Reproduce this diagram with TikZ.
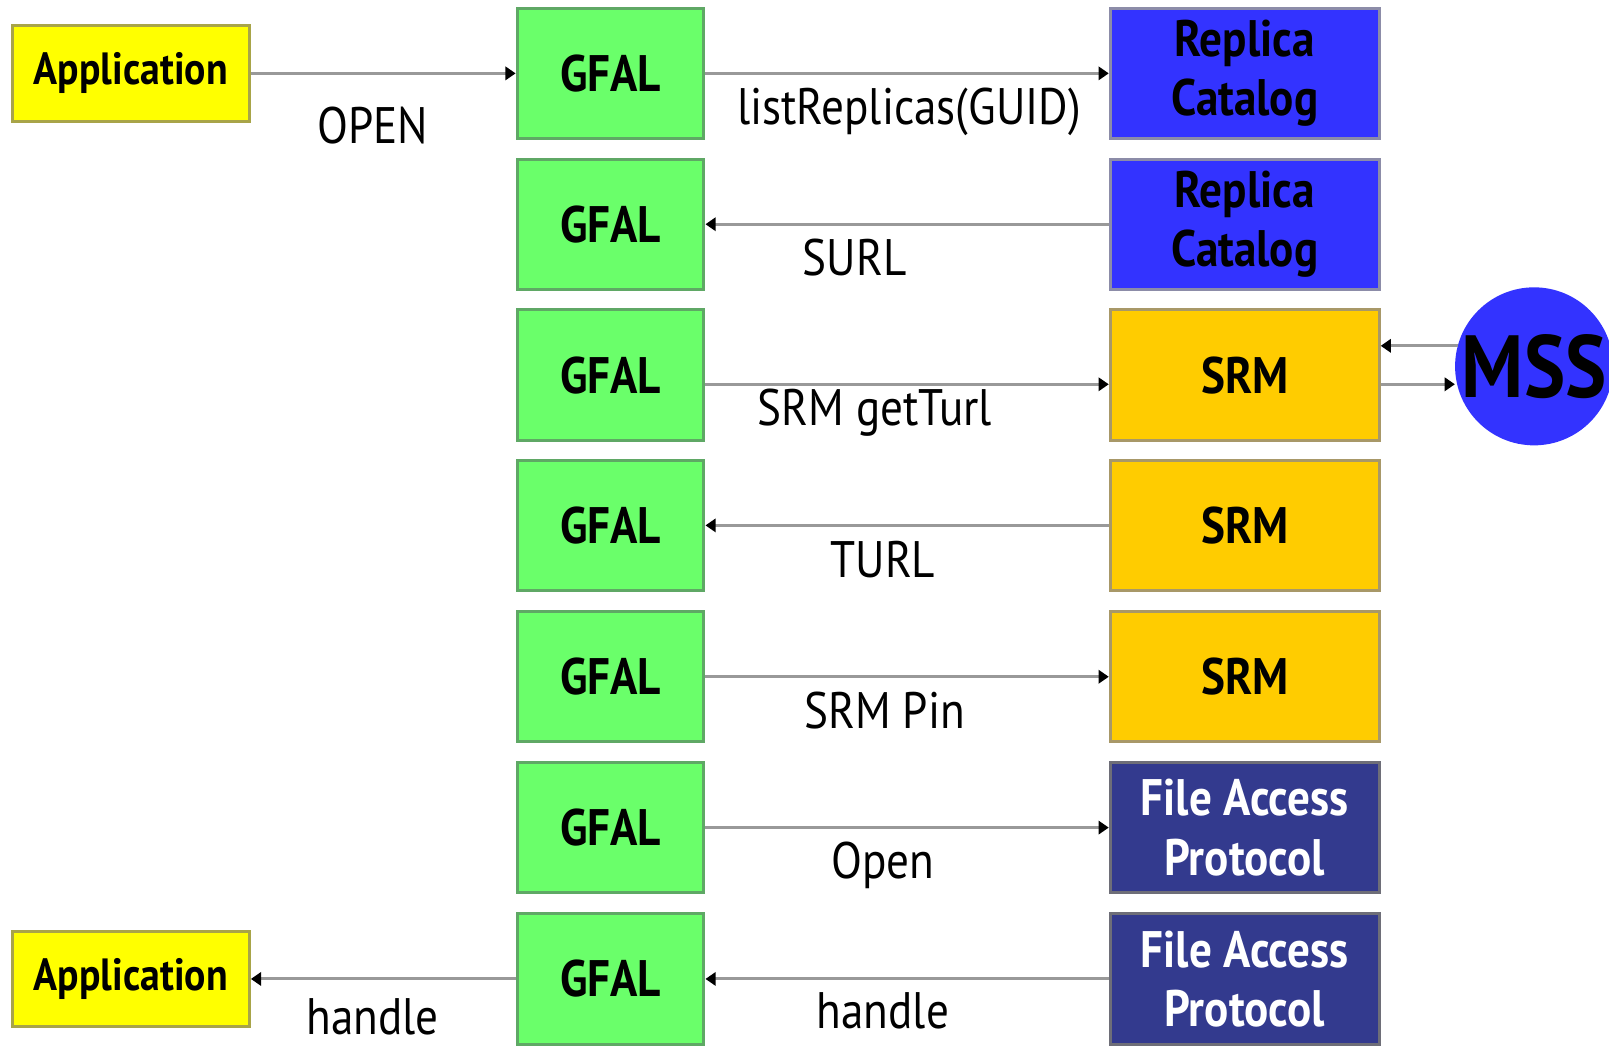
\documentclass[tikz,border=0pt]{standalone}
\usepackage{fontspec}
\setmainfont[FakeStretch=0.88]{PT Sans}
\usetikzlibrary{arrows.meta}

\definecolor{appfill}{HTML}{FFFF00}
\definecolor{appline}{HTML}{A8A448}
\definecolor{gfalfill}{HTML}{6AFF6A}
\definecolor{gfalline}{HTML}{5FA865}
\definecolor{rcfill}{HTML}{3333FF}
\definecolor{rcline}{HTML}{8C8CA8}
\definecolor{srmfill}{HTML}{FFCC00}
\definecolor{srmline}{HTML}{A89868}
\definecolor{fapfill}{HTML}{333A8E}
\definecolor{fapline}{HTML}{6E6E78}
\definecolor{wire}{HTML}{999999}

\newcommand\boxfont{\fontsize{50}{58}\selectfont\bfseries}
\newcommand\appfont{\fontsize{44}{50}\selectfont\bfseries}
\newcommand\lblfont{\fontsize{50}{58}\selectfont}
\newcommand\mssfont{\fontsize{86}{90}\selectfont\bfseries}

\begin{document}
\begin{tikzpicture}[x=1pt,y=-1pt,
  box/.style={draw, line width=3pt, inner sep=0pt, align=center, font=\boxfont},
  appbox/.style={box, fill=appfill, draw=appline, font=\appfont, minimum width=231pt, minimum height=93pt},
  gfalbox/.style={box, fill=gfalfill, draw=gfalline, minimum width=182pt, minimum height=127pt},
  rcbox/.style={box, fill=rcfill, draw=rcline, minimum width=262pt, minimum height=127pt},
  srmbox/.style={box, fill=srmfill, draw=srmline, minimum width=262pt, minimum height=127pt},
  fapbox/.style={box, fill=fapfill, draw=fapline, text=white, minimum width=262pt, minimum height=127pt},
  arr/.style={draw=wire, line width=3pt, -{Triangle[length=10pt,width=13pt,color=black]}},
  lbl/.style={anchor=base, inner sep=0pt, font=\lblfont}
]
\useasboundingbox (0,0) rectangle (1568,1024);

% applications
\node[appbox] (app1) at (127.5,71.5) {Application};
\node[appbox] (app2) at (127.5,954) {Application};

% GFAL column
\node[gfalbox] (g1) at (595,71.5) {GFAL};
\node[gfalbox] (g2) at (595,218.5) {GFAL};
\node[gfalbox] (g3) at (595,365.5) {GFAL};
\node[gfalbox] (g4) at (595,512) {GFAL};
\node[gfalbox] (g5) at (595,659.5) {GFAL};
\node[gfalbox] (g6) at (595,806.5) {GFAL};
\node[gfalbox] (g7) at (595,954) {GFAL};

% services column
\node[rcbox] (r1) at (1213,71.5) {Replica\\Catalog};
\node[rcbox] (r2) at (1213,218.5) {Replica\\Catalog};
\node[srmbox] (s3) at (1213,365.5) {SRM};
\node[srmbox] (s4) at (1213,512) {SRM};
\node[srmbox] (s5) at (1213,659.5) {SRM};
\node[fapbox] (f6) at (1213,806.5) {File Access\\Protocol};
\node[fapbox] (f7) at (1213,954) {File Access\\Protocol};

% mass storage
\node[circle, fill=rcfill, minimum size=148pt, inner sep=0pt, font=\mssfont] (mss) at (1495,357) {MSS};

% calls and replies
\draw[arr] (app1.east) -- (g1.west) node[lbl, pos=.46, yshift=-68pt] {OPEN};
\draw[arr] (g1.east) -- (r1.west) node[lbl, pos=.505, yshift=-50pt] {listReplicas(GUID)};
\draw[arr] (r2.west) -- (g2.east) node[lbl, pos=.63, yshift=-50pt] {SURL};
\draw[arr] ([yshift=-9pt]g3.east) -- ([yshift=-9pt]s3.west) node[lbl, pos=.42, yshift=-40pt] {SRM getTurl};
\draw[arr] (s4.west) -- (g4.east) node[lbl, pos=.56, yshift=-51pt] {TURL};
\draw[arr] (g5.east) -- (s5.west) node[lbl, pos=.444, yshift=-50pt] {SRM Pin};
\draw[arr] (g6.east) -- (f6.west) node[lbl, pos=.44, yshift=-50pt] {Open};
\draw[arr] (f7.west) -- (g7.east) node[lbl, pos=.56, yshift=-48pt] {handle};
\draw[arr] (g7.west) -- (app2.east) node[lbl, pos=.54, yshift=-54pt] {handle};

% SRM <-> MSS
\draw[arr] (mss.165) -- (mss.165 -| s3.east);
\draw[arr] ([yshift=-9pt]s3.east) -- ([yshift=-9pt]s3.east -| mss.west);
\end{tikzpicture}
\end{document}
